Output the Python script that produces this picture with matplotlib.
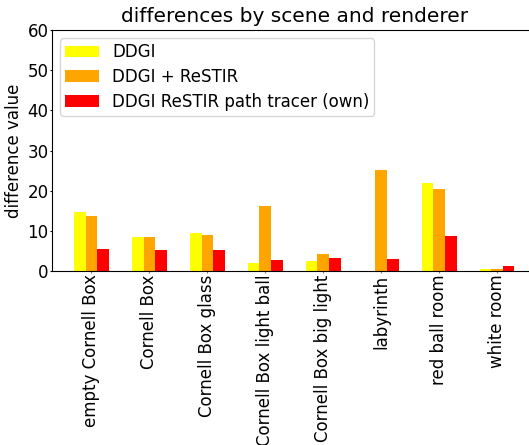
import matplotlib
matplotlib.use('Agg')
import matplotlib.pyplot as plt
import numpy as np

# scenes and measured differences per renderer
scenes = ['empty Cornell Box', 'Cornell Box', 'Cornell Box glass',
          'Cornell Box light ball', 'Cornell Box big light', 'labyrinth',
          'red ball room', 'white room']
ddgi = [14.7, 8.5, 9.5, 2.0, 2.5, 0.0, 21.9, 0.5]
ddgi_restir = [13.7, 8.5, 9.0, 16.2, 4.2, 25.1, 20.4, 0.5]
ddgi_restir_pt = [5.5, 5.2, 5.2, 2.7, 3.2, 3.0, 8.7, 1.2]

fs = 12
fig = plt.figure(figsize=(5.29, 4.45), dpi=100)
ax = fig.add_axes([52 / 529, 1 - 271 / 445, 484.5 / 529, 241 / 445])

x = np.arange(len(scenes))
w = 0.2
ax.bar(x - w, ddgi, w, color='yellow', label='DDGI')
ax.bar(x, ddgi_restir, w, color='orange', label='DDGI + ReSTIR')
ax.bar(x + w, ddgi_restir_pt, w, color='red', label='DDGI ReSTIR path tracer (own)')

ax.set_ylim(0, 60)
ax.set_xticks(x)
ax.set_xticklabels(scenes, rotation=90, fontsize=fs)
ax.tick_params(axis='both', labelsize=fs, length=1.5, pad=1)
ax.tick_params(axis='x', color='0.5')
ax.set_ylabel('difference value', fontsize=fs, labelpad=3)
ax.set_title('differences by scene and renderer', fontsize=14.5)
ax.legend(loc='upper left', fontsize=fs, labelspacing=0.4, borderpad=0.3)

fig.savefig('out.png', dpi=100)
